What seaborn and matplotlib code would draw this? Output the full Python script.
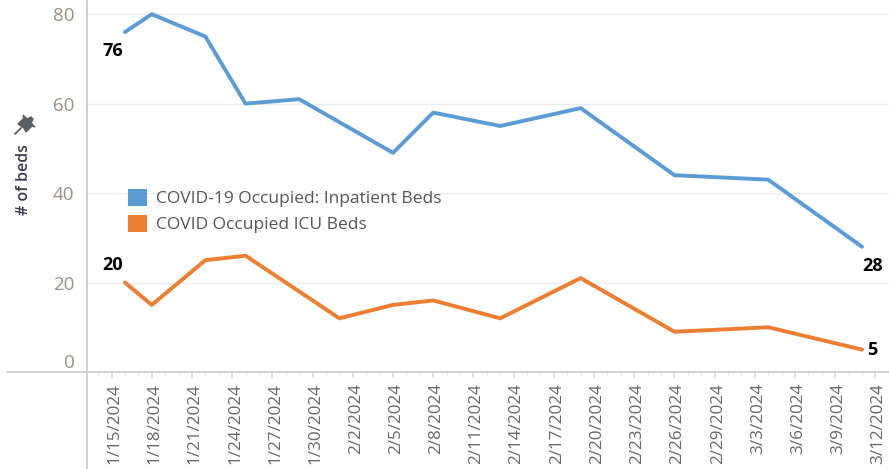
import pandas as pd
import matplotlib
matplotlib.use('Agg')
import matplotlib.pyplot as plt
import matplotlib.dates as mdates
import matplotlib.transforms as mtransforms
from matplotlib.lines import Line2D
from matplotlib.patches import Patch, Polygon
import seaborn as sns

# data
inpatient_dates = ['2024-01-16', '2024-01-18', '2024-01-22', '2024-01-25', '2024-01-29', '2024-02-05',
                   '2024-02-08', '2024-02-13', '2024-02-19', '2024-02-26', '2024-03-04', '2024-03-11']
inpatient_beds = [76, 80, 75, 60, 61, 49, 58, 55, 59, 44, 43, 28]

icu_dates = ['2024-01-16', '2024-01-18', '2024-01-22', '2024-01-25', '2024-02-01', '2024-02-05',
             '2024-02-08', '2024-02-13', '2024-02-19', '2024-02-26', '2024-03-04', '2024-03-11']
icu_beds = [20, 15, 25, 26, 12, 15, 16, 12, 21, 9, 10, 5]

series_names = ['COVID-19 Occupied: Inpatient Beds', 'COVID Occupied ICU Beds']
colors = ['#5b9bd5', '#ed7d31']

tick_dates = pd.date_range('2024-01-15', '2024-03-12', freq='3D')
y_ticks = [0, 20, 40, 60, 80]

df = pd.concat([
    pd.DataFrame({'date': pd.to_datetime(inpatient_dates), 'beds': inpatient_beds, 'series': series_names[0]}),
    pd.DataFrame({'date': pd.to_datetime(icu_dates), 'beds': icu_beds, 'series': series_names[1]}),
])

sns.set_theme(style='white')
plt.rcParams['font.family'] = ['Open Sans', 'DejaVu Sans']

W, H = 889, 469
fig = plt.figure(figsize=(W / 100, H / 100), dpi=100)
ax = fig.add_axes([87 / W, 1 - 372 / H, 1 - 87 / W, (372 - 3) / H])

sns.lineplot(data=df, x='date', y='beds', hue='series', hue_order=series_names,
             palette=colors, linewidth=2.8, legend=False, ax=ax)

ax.set_xlim(pd.Timestamp('2024-01-13 04:00'), pd.Timestamp('2024-03-13 00:15'))
ax.set_ylim(0, 82.5)

# gridlines
for y in y_ticks[1:]:
    ax.axhline(y, color='#ececec', lw=1, zorder=0)

for s in ax.spines.values():
    s.set_visible(False)

# x ticks
ax.set_xticks(tick_dates)
ax.set_xticklabels([f'{d.month}/{d.day}/{d.year}' for d in tick_dates], rotation=90,
                   fontsize=12.3, color='#666666')
ax.xaxis.set_minor_locator(mdates.DayLocator())
ax.tick_params(axis='x', which='major', length=4, color='#dddddd', pad=4, bottom=True)
ax.tick_params(axis='x', which='minor', length=2, color='#e6e6e6', bottom=True)
shift = mtransforms.ScaledTranslation(3 / 100, 0, fig.dpi_scale_trans)
for lab in ax.get_xticklabels():
    lab.set_transform(lab.get_transform() + shift)

# y ticks
ax.set_yticks(y_ticks)
ax.set_yticklabels([str(v) for v in y_ticks], fontsize=13.5, color='#9a8f86')
ax.tick_params(axis='y', length=0, pad=9)
ax.get_yticklabels()[0].set_va('bottom')
ax.set_xlabel('')
ax.set_ylabel('')

# axis lines in Tableau style
fig.add_artist(Line2D([7 / W, 1], [1 - 372 / H, 1 - 372 / H], color='#c8c8c8', lw=1.2))
fig.add_artist(Line2D([87 / W, 87 / W], [0, 1], color='#c8c8c8', lw=1.2))

# y title and pin
fig.text(24 / W, 1 - 180 / H, '# of beds', rotation=90, ha='center', va='center',
         fontsize=11.5, fontweight='semibold', color='#3a3a48')
pin_px = [(18, 124), (24, 118), (23, 115), (27, 119), (31, 117), (33, 119),
          (31, 123), (35, 127), (32, 126), (26, 132), (24, 128)]
pin = Polygon([(x / W, 1 - y / H) for x, y in pin_px], closed=True,
              transform=fig.transFigure, color='#5a5f66')
fig.add_artist(pin)
fig.add_artist(Line2D([15 / W, 21 / W], [1 - 134 / H, 1 - 128 / H], color='#5a5f66', lw=1.3))

# end labels
lab_kw = dict(textcoords='offset pixels', fontsize=13, fontweight='bold', color='black',
              ha='center', va='center')
d_in = pd.to_datetime(inpatient_dates)
d_icu = pd.to_datetime(icu_dates)
ax.annotate(str(inpatient_beds[0]), (d_in[0], inpatient_beds[0]), xytext=(-12, -19), **lab_kw)
ax.annotate(str(icu_beds[0]), (d_icu[0], icu_beds[0]), xytext=(-12, 18), **lab_kw)
ax.annotate(str(inpatient_beds[-1]), (d_in[-1], inpatient_beds[-1]), xytext=(11, -19), **lab_kw)
ax.annotate(str(icu_beds[-1]), (d_icu[-1], icu_beds[-1]), xytext=(10, 0), **lab_kw)

# legend
handles = [Patch(facecolor=c, edgecolor='none', label=n) for c, n in zip(colors, series_names)]
ax.legend(handles=handles, loc='upper left', bbox_to_anchor=(128 / W, 1 - 189 / H),
          bbox_transform=fig.transFigure, frameon=False, borderaxespad=0, borderpad=0,
          handlelength=1.1, handleheight=1.1, handletextpad=0.5, labelspacing=0.45,
          prop={'family': ['Open Sans', 'DejaVu Sans'], 'size': 12.5}, labelcolor='#555555')

fig.savefig('out.png', dpi=100)
